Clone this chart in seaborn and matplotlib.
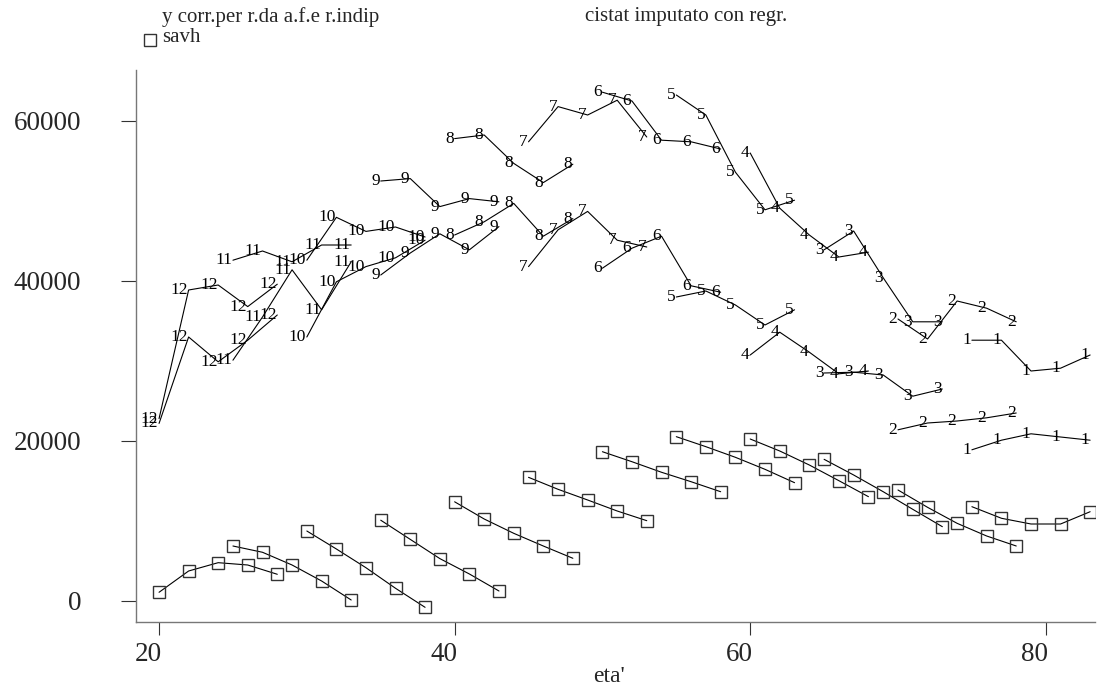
import numpy as np
import pandas as pd
import matplotlib
matplotlib.use("Agg")
import matplotlib.pyplot as plt
import matplotlib.transforms as mtransforms
from matplotlib.lines import Line2D
import seaborn as sns

# ---------------- data ----------------
coorte = [1] * 5 + [2] * 5 + [3] * 5 + [4] * 5 + [5] * 5 + [6] * 5 + \
         [7] * 5 + [8] * 5 + [9] * 5 + [10] * 5 + [11] * 5 + [12] * 5

eta = [75, 77, 79, 81, 83,
       70, 72, 74, 76, 78,
       65, 67, 69, 71, 73,
       60, 62, 64, 66, 68,
       55, 57, 59, 61, 63,
       50, 52, 54, 56, 58,
       45, 47, 49, 51, 53,
       40, 42, 44, 46, 48,
       35, 37, 39, 41, 43,
       30, 32, 34, 36, 38,
       25, 27, 29, 31, 33,
       20, 22, 24, 26, 28]

y_corr = [32600, 32600, 28750, 29100, 30750,
          35250, 32750, 37500, 36600, 34900,
          43900, 46250, 40400, 34900, 34900,
          56000, 49100, 45750, 43000, 43600,
          63250, 60750, 53600, 48900, 50100,
          63600, 62500, 57600, 57400, 56500,
          57400, 61800, 60750, 62600, 58000,
          57800, 58250, 54700, 52300, 54600,
          52500, 52800, 49300, 50300, 49900,
          42600, 47960, 46200, 46750, 45500,
          42600, 43750, 42400, 44500, 44500,
          22800, 38875, 39500, 36800, 39600]

cistat = [18900, 20100, 20900, 20500, 20100,
          21400, 22250, 22500, 22900, 23500,
          28500, 28600, 28250, 25600, 26500,
          30750, 33600, 31100, 28400, 28750,
          38000, 38750, 37000, 34500, 36400,
          41600, 44100, 45600, 39400, 38600,
          41800, 46400, 48700, 45100, 44250,
          45750, 47400, 49700, 45600, 47800,
          40750, 43500, 45900, 43900, 46800,
          33000, 39900, 41800, 42900, 45100,
          30100, 35500, 41400, 36400, 42400,
          22200, 33000, 29900, 32600, 35750]

savh = [11790, 10340, 9625, 9625, 11160,
        13875, 11710, 9710, 8125, 6875,
        17710, 15750, 13660, 11460, 9290,
        20250, 18750, 17000, 15040, 13040,
        20540, 19290, 17960, 16460, 14790,
        18660, 17410, 16090, 14910, 13660,
        15460, 13960, 12625, 11250, 10040,
        12400, 10250, 8460, 6875, 5340,
        10100, 7700, 5300, 3375, 1250,
        8750, 6500, 4160, 1590, -790,
        6875, 6090, 4500, 2500, 125,
        1090, 3750, 4790, 4500, 3340]

x_ticks = [20, 40, 60, 80]
y_ticks = [0, 20000, 40000, 60000]
legend_labels = ["y corr.per r.da a.f.e r.indip", "cistat imputato con regr.", "savh"]
x_title = "eta'"

df = pd.DataFrame({"coorte": coorte, "eta": eta, "y_corr": y_corr,
                   "cistat": cistat, "savh": savh})

# ---------------- style ----------------
sns.set_theme(style="white")
plt.rcParams["font.family"] = ["Liberation Serif", "DejaVu Serif"]

W, H = 1104, 688
fig = plt.figure(figsize=(W / 100, H / 100), dpi=100)
L, R, B, T = 136, 1095, 622, 70
ax = fig.add_axes([L / W, 1 - B / H, (R - L) / W, (B - T) / H])

line_kw = dict(color="black", lw=0.8, estimator=None, sort=False,
               units="coorte", legend=False, ax=ax)

for col in ["y_corr", "cistat"]:
    sns.lineplot(data=df, x="eta", y=col, **line_kw)
    for c, xv, yv in zip(df["coorte"], df["eta"], df[col]):
        ax.annotate(str(c), (xv, yv), xytext=(-0.5, 0), textcoords="offset points",
                    ha="right", va="center", fontsize=12.5, color="black")

sns.lineplot(data=df, x="eta", y="savh", marker="s", markersize=9,
             markerfacecolor="none", markeredgecolor="#333333",
             markeredgewidth=1.0, **line_kw)

ax.set_xlim(18.44, 83.33)
ax.set_ylim(-2625, 66375)
ax.set_xticks(x_ticks)
ax.set_yticks(y_ticks)
ax.set_xticklabels([str(v) for v in x_ticks])
ax.set_yticklabels([str(v) for v in y_ticks])

for s in ["top", "right"]:
    ax.spines[s].set_visible(False)
for s in ["left", "bottom"]:
    ax.spines[s].set_color("#777777")
    ax.spines[s].set_linewidth(1.0)

ax.tick_params(axis="x", direction="out", length=9.4, width=0.8, color="#333333",
               labelsize=19.5, pad=5.0, bottom=True)
ax.tick_params(axis="y", direction="out", length=10.5, width=0.8, color="#333333",
               labelsize=19.5, pad=29.0, left=True)

ax.set_xlabel(x_title, fontsize=17)
ax.set_ylabel("")

# shift x tick labels like the reference rendering
off = mtransforms.ScaledTranslation(-11 / 100, 0, fig.dpi_scale_trans)
for lab in ax.get_xticklabels():
    lab.set_transform(lab.get_transform() + off)
ax.xaxis.set_label_coords((609 - L) / (R - L), (B - 676) / (B - T), transform=ax.transAxes)
ax.xaxis.label.set_va("center")

# legend drawn at the top
fig.text(162 / W, 1 - 17 / H, legend_labels[0], fontsize=15, va="center", ha="left")
fig.text(585 / W, 1 - 17 / H, legend_labels[1], fontsize=15, va="center", ha="left")
fig.text(162 / W, 1 - 38 / H, legend_labels[2], fontsize=15, va="center", ha="left")
fig.add_artist(Line2D([150 / W], [1 - 40 / H], marker="s", markersize=8,
                      markerfacecolor="none", markeredgecolor="#333333",
                      markeredgewidth=1.0, transform=fig.transFigure, linestyle="none"))

fig.savefig("out.png", dpi=100, facecolor="white")
